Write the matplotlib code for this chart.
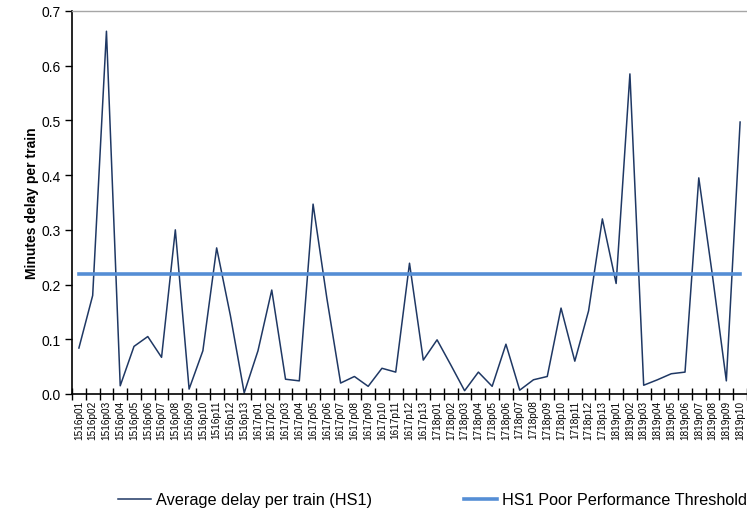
import matplotlib
matplotlib.use("Agg")
import matplotlib.pyplot as plt

plt.rcParams['font.family'] = ['Liberation Sans', 'DejaVu Sans']

# Periods (financial year + period number)
periods = (
    [f"1516p{i:02d}" for i in range(1, 14)]
    + [f"1617p{i:02d}" for i in range(1, 14)]
    + [f"1718p{i:02d}" for i in range(1, 14)]
    + [f"1819p{i:02d}" for i in range(1, 11)]
)

# Average delay per train (minutes)
delay_1516 = [0.084, 0.180, 0.663, 0.015, 0.087, 0.105, 0.067, 0.300, 0.009,
              0.079, 0.267, 0.143, 0.002]
delay_1617 = [0.079, 0.190, 0.027, 0.024, 0.347, 0.175, 0.020, 0.032, 0.014,
              0.047, 0.040, 0.239, 0.062]
delay_1718 = [0.099, 0.053, 0.006, 0.040, 0.014, 0.091, 0.007, 0.026, 0.032,
              0.157, 0.060, 0.152, 0.320]
delay_1819 = [0.202, 0.585, 0.016, 0.026, 0.037, 0.040, 0.395, 0.215, 0.024,
              0.497]
avg_delay = delay_1516 + delay_1617 + delay_1718 + delay_1819

# Poor performance threshold (minutes)
threshold_value = 0.219
threshold = [threshold_value] * len(periods)

y_ticks = [0.0, 0.1, 0.2, 0.3, 0.4, 0.5, 0.6, 0.7]

fig = plt.figure(figsize=(7.47, 5.10), dpi=100)
ax = fig.add_axes([0.0964, 0.2255, 0.9036, 0.7510])

x = list(range(len(periods)))
line_delay, = ax.plot(x, avg_delay, color='#1F3864', lw=1.1,
                      label='Average delay per train (HS1)')
line_thr, = ax.plot(x, threshold, color='#558ED5', lw=2.6,
                    label='HS1 Poor Performance Threshold')

ax.set_xlim(-0.5, len(periods) - 0.5)
ax.set_ylim(0, 0.7)

# Category axis: tick marks between categories, labels centred on them
ax.set_xticks([i - 0.5 for i in range(len(periods) + 1)])
ax.set_xticklabels([])
ax.set_xticks(x, minor=True)
ax.set_xticklabels(periods, minor=True, rotation=90, fontsize=7.2)
ax.tick_params(axis='x', which='major', direction='inout', length=8,
               width=1, color='black')
ax.tick_params(axis='x', which='minor', length=0, pad=4)

ax.set_yticks(y_ticks)
ax.set_yticklabels([f"{v:.1f}" for v in y_ticks], fontsize=10)
ax.tick_params(axis='y', direction='out', length=5, width=1, color='black',
               pad=3)

ax.set_ylabel('Minutes delay per train', fontsize=10, fontweight='bold',
              labelpad=2)

ax.spines['left'].set_color('black')
ax.spines['bottom'].set_color('black')
ax.spines['left'].set_linewidth(1.2)
ax.spines['bottom'].set_linewidth(1.2)
ax.spines['top'].set_color('#A6A6A6')
ax.spines['top'].set_linewidth(1.0)
ax.spines['right'].set_visible(False)

fig.legend(handles=[line_delay, line_thr], loc='center',
           bbox_to_anchor=(0.579, 0.018), ncol=2, frameon=False,
           fontsize=11.7, handlelength=2.0, handletextpad=0.3,
           columnspacing=5.7)

fig.savefig('out.png', dpi=100)
